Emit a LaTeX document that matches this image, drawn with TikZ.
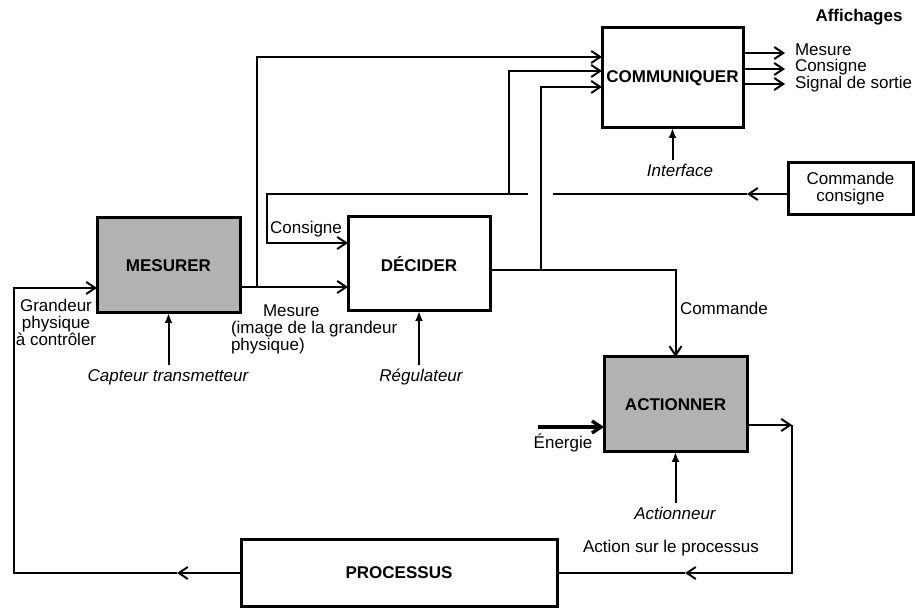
\documentclass[tikz,border=0pt]{standalone}
\usepackage{fontspec}
\setmainfont{Liberation Sans}
\usetikzlibrary{arrows.meta,calc}
\begin{document}
\begin{tikzpicture}[x=0.5pt,y=-0.5pt,
  every node/.style={inner sep=0pt, outer sep=0pt},
  txt/.style={font=\fontsize{8.5}{8.5}\selectfont},
  itx/.style={font=\fontsize{8.5}{8.5}\selectfont\itshape},
  btx/.style={font=\fontsize{8.5}{8.5}\selectfont\bfseries},
  outlab/.style={txt,anchor=west,text height=6.1pt,text depth=1.7pt},
  wire/.style={line width=1pt},
  arr/.style={wire,-{Straight Barb[length=4.5pt,width=6pt]}},
  uparr/.style={wire,-{Latex[length=5pt,width=4pt]},shorten <=2pt},
  block/.style={draw,line width=1.5pt,btx},
  shaded/.style={fill=black!30}
]
\path[use as bounding box] (0,0) rectangle (915,608);

% blocks
\node[block,shaded,minimum width=71.5pt,minimum height=47.5pt] (mes) at (168.5,265.5) {MESURER};
\node[block,minimum width=71pt,minimum height=47pt] (dec) at (419,264) {DÉCIDER};
\node[block,minimum width=70.5pt,minimum height=50pt] (com) at (672.5,78) {COMMUNIQUER};
\node[block,txt,align=center,minimum width=62.5pt,minimum height=26pt] (cc) at (850.5,189) {Commande\\consigne};
\node[block,shaded,minimum width=71.5pt,minimum height=47.5pt] (act) at (675.5,404.5) {ACTIONNER};
\node[block,minimum width=158pt,minimum height=33pt] (proc) at (399,573) {PROCESSUS};

% labels
\node[txt,align=center] (gr) at (56,322) {Grandeur\\physique\\à contrôler};
\node[txt,anchor=west,align=left] (mlab) at (231,329) {\hspace*{16pt}Mesure\\(image de la grandeur\\physique)};
\node[txt] (cslab) at (306,229) {Consigne};
\node[txt,anchor=west] (cmdlab) at (680,308) {Commande};
\node[itx] (capt) at (168,377) {Capteur transmetteur};
\node[itx] (reg) at (421,377) {Régulateur};
\node[itx] (intf) at (680,170) {Interface};
\node[itx] (actr) at (675,513) {Actionneur};
\node[txt] (en) at (563,443) {Énergie};
\node[txt] (asp) at (671,548) {Action sur le processus};
\node[btx] (aff) at (859,17) {Affichages};
\node[outlab] (o1) at (795,51) {Mesure};
\node[outlab] (o2) at (795,67.5) {Consigne};
\node[outlab] (o3) at (795,84) {Signal de sortie};

% feedback loop from process to measure
\coordinate (gl) at (14,288);
\coordinate (bl) at (14,573);
\coordinate (pa) at (177,573);
\draw[arr] (proc.west) -- (pa);
\draw[arr] (pa) -- (bl) -- (gl) -- (gl -| mes.west);

% measure
\coordinate (mj) at (257,287);
\coordinate (mt) at (257,57);
\draw[arr] (mes.east |- mj) -- (dec.west |- mj);
\draw[arr] (mj) -- (mt) -- (mt -| com.west);

% set point
\coordinate (ca) at (747,194);
\coordinate (cg1) at (553,194);
\coordinate (cg2) at (528,194);
\coordinate (cj) at (509,194);
\coordinate (ct) at (509,71);
\coordinate (cl) at (267,194);
\coordinate (cd) at (267,243);
\draw[arr] (cc.west |- ca) -- (ca);
\draw[wire] (ca) -- (cg1);
\draw[arr] (cg2) -- (cl) -- (cd) -- (cd -| dec.west);
\draw[arr] (cj) -- (ct) -- (ct -| com.west);

% command
\coordinate (dj) at (541,270);
\coordinate (dt) at (541,87);
\coordinate (dr) at (675.5,270);
\draw[arr] (dec.east |- dj) -- (dr) -- (act.north);
\draw[arr] (dj) -- (dt) -- (dt -| com.west);

% outputs
\coordinate (e1) at (785,53);
\coordinate (e2) at (785,69);
\coordinate (e3) at (785,84);
\draw[arr] (com.east |- e1) -- (e1);
\draw[arr] (com.east |- e2) -- (e2);
\draw[arr] (com.east |- e3) -- (e3);

% inputs from below
\draw[uparr] (mes.south |- capt.north) -- (mes.south);
\draw[uparr] (dec.south |- reg.north) -- (dec.south);
\draw[uparr] (com.south |- intf.north) -- (com.south);
\draw[uparr] (act.south |- actr.north) -- (act.south);

% energy
\coordinate (es) at (538,427);
\draw[arr,line width=1.7pt] (es) -- (es -| act.west);

% action on process
\coordinate (ra) at (792,425);
\coordinate (rb) at (792,573);
\coordinate (rm) at (685,573);
\draw[arr] (act.east |- ra) -- (ra);
\draw[arr] (ra) -- (rb) -- (rm);
\draw[wire] (rm) -- (proc.east);
\end{tikzpicture}
\end{document}
